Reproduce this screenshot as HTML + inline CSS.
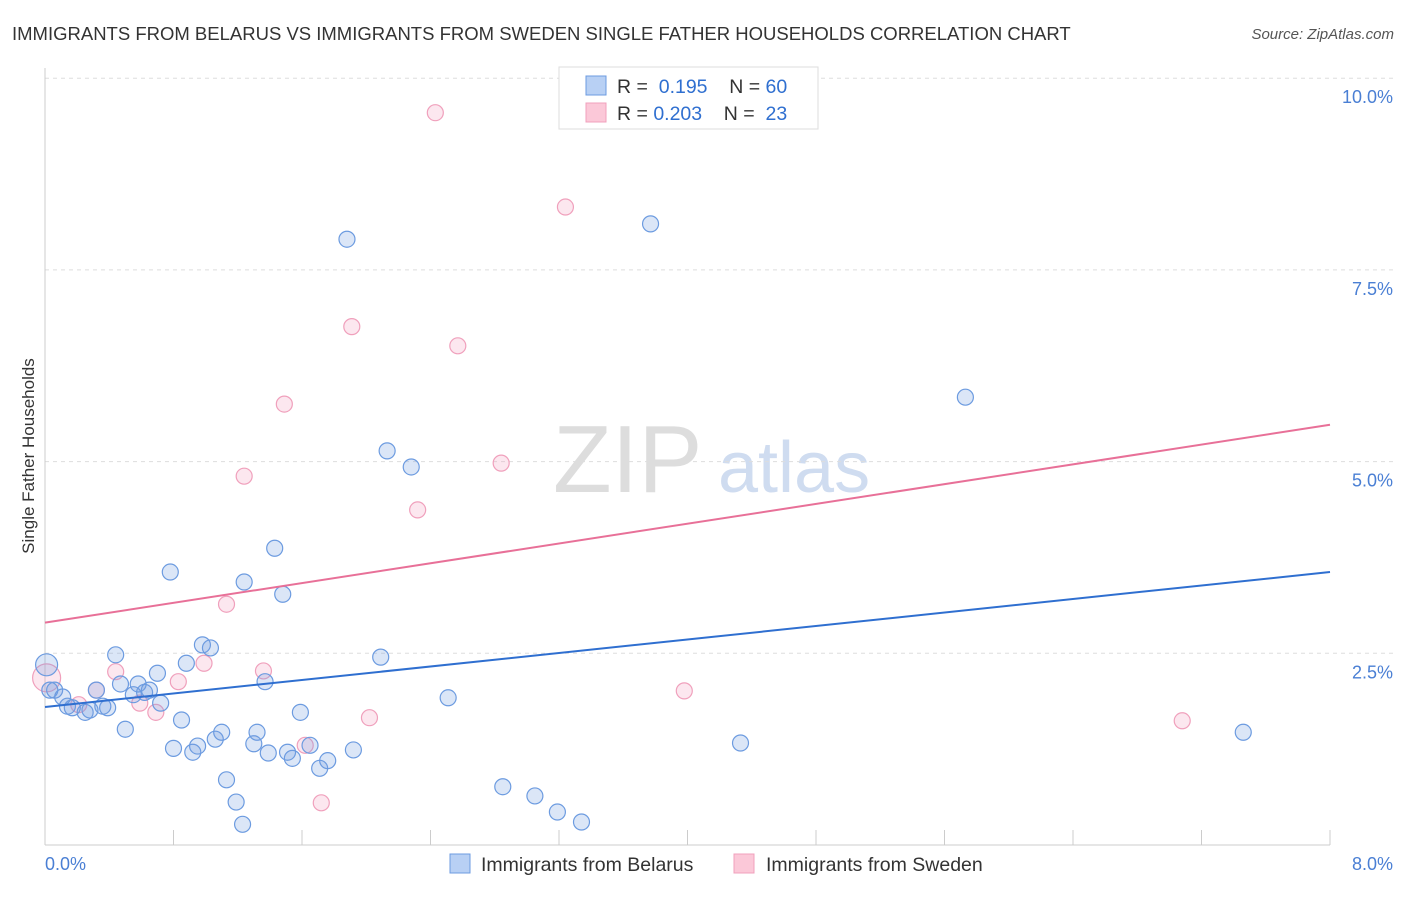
<!DOCTYPE html>
<html><head><meta charset="utf-8"><style>
body{margin:0;background:#fff;font-family:"Liberation Sans",sans-serif;}
svg text{font-family:"Liberation Sans",sans-serif;}
</style></head><body>
<svg width="1406" height="892">
<text x="12" y="40" font-size="18.5" fill="#333">IMMIGRANTS FROM BELARUS VS IMMIGRANTS FROM SWEDEN SINGLE FATHER HOUSEHOLDS CORRELATION CHART</text>
<text x="1394" y="39" font-size="15" fill="#555" font-style="italic" text-anchor="end">Source: ZipAtlas.com</text>
<text x="553" y="492" font-size="96" fill="#ddd">ZIP</text>
<text x="718" y="492" font-size="72" fill="#cfdcf0">atlas</text>
<g id="grid"></g>
<line x1="45" y1="68" x2="45" y2="845" stroke="#ccc"/>
<line x1="45" y1="845" x2="1330" y2="845" stroke="#ccc"/>
<g id="ticks"></g>
<text x="45" y="870" font-size="18" fill="#4a7fd4">0.0%</text>
<text x="1393" y="870" font-size="18" fill="#4a7fd4" text-anchor="end">8.0%</text>
<text x="34" y="456" font-size="17" fill="#333" text-anchor="middle" transform="rotate(-90 34 456)">Single Father Households</text>
<g id="pts"></g>
<g id="trend"></g>
<g>
<rect x="559" y="67" width="259" height="62" fill="#fff" stroke="#ddd"/>
<rect x="586" y="76" width="20" height="19" fill="#b8d0f4" stroke="#6c9be0"/>
<rect x="586" y="103" width="20" height="19" fill="#fbc8d8" stroke="#f0a0bc"/>
<text x="617" y="93" font-size="19.5" fill="#333">R = <tspan fill="#2f6fd0">&#160;0.195</tspan>&#160;&#160;&#160;&#160;N = <tspan fill="#2f6fd0">60</tspan></text>
<text x="617" y="120" font-size="19.5" fill="#333">R = <tspan fill="#2f6fd0">0.203</tspan>&#160;&#160;&#160;&#160;N = <tspan fill="#2f6fd0">&#160;23</tspan></text>
</g>
<g>
<rect x="450" y="854" width="20" height="19" fill="#b8d0f4" stroke="#6c9be0"/>
<text x="481" y="871" font-size="19.5" fill="#333">Immigrants from Belarus</text>
<rect x="734" y="854" width="20" height="19" fill="#fbc8d8" stroke="#f0a0bc"/>
<text x="766" y="871" font-size="19.5" fill="#333">Immigrants from Sweden</text>
</g>
</svg>
<script>
const yTicks=[2.5,5,7.5,10];
const yTickLabels=["2.5%","5.0%","7.5%","10.0%"];
const xTicks=[0,0.8,1.6,2.4,3.2,4,4.8,5.6,6.4,7.2,8];
const belX=[0.01,0.06,0.11,0.14,0.17,0.25,0.28,0.32,0.36,0.39,0.44,0.47,0.50,0.55,0.58,0.62,0.65,0.70,0.72,0.78,0.80,0.85,0.88,0.92,0.95,0.98,1.03,1.06,1.10,1.13,1.19,1.23,1.24,1.30,1.32,1.37,1.39,1.43,1.48,1.51,1.54,1.59,1.65,1.71,1.76,1.88,1.92,2.09,2.13,2.28,2.51,2.85,3.05,3.19,3.34,3.77,4.33,5.73,7.46,0.03];
const belY=[2.35,2.02,1.93,1.81,1.79,1.73,1.76,2.02,1.81,1.79,2.48,2.10,1.51,1.96,2.10,1.99,2.02,2.24,1.85,3.56,1.26,1.63,2.37,1.21,1.29,2.61,2.57,1.38,1.47,0.85,0.56,0.27,3.43,1.32,1.47,2.13,1.20,3.87,3.27,1.21,1.13,1.73,1.30,1.00,1.10,7.90,1.24,2.45,5.14,4.93,1.92,0.76,0.64,0.43,0.30,8.10,1.33,5.84,1.47,2.02];
const sweX=[0.01,0.32,0.44,0.59,0.69,0.83,0.99,1.13,1.24,1.36,1.49,1.62,1.72,1.91,2.02,2.32,2.43,2.57,2.84,3.24,3.98,7.08,0.21];
const sweY=[2.18,2.02,2.26,1.85,1.73,2.13,2.37,3.14,4.81,2.27,5.75,1.30,0.55,6.76,1.66,4.37,9.55,6.51,4.98,8.32,2.01,1.62,1.83];
const belTrend=[1.80,3.56];
const sweTrend=[2.90,5.48];
const NS="http://www.w3.org/2000/svg";
const sx=v=>45+v/8*1285, sy=v=>845-v*76.68;
function mk(t,a,p){const e=document.createElementNS(NS,t);for(const k in a)e.setAttribute(k,a[k]);document.getElementById(p).appendChild(e);return e;}
yTicks.forEach((t,i)=>{
 const l=mk('line',{x1:45,x2:1395,y1:sy(t),y2:sy(t),stroke:'#ddd','stroke-dasharray':'4,4'},'grid');
 
 
 const tx=mk('text',{x:1393,y:sy(t)+25,'font-size':18,fill:'#4a7fd4','text-anchor':'end'},'grid');
 tx.textContent=yTickLabels[i];
 
 
});
xTicks.forEach(t=>{
 const l=mk('line',{x1:sx(t),x2:sx(t),y1:830,y2:845,stroke:'#ccc'},'ticks');
 
 
});
sweX.forEach((x,i)=>{
 const c=mk('circle',{cx:sx(x),cy:sy(sweY[i]),r:i==0?14:8,fill:'rgba(245,160,190,0.25)',stroke:'#f0a0bc','stroke-width':1.2},'pts');
 
 
});
belX.forEach((x,i)=>{
 const c=mk('circle',{cx:sx(x),cy:sy(belY[i]),r:i==0?11:8,fill:'rgba(110,155,225,0.25)',stroke:'#6c9be0','stroke-width':1.2},'pts');
 
 
});
const tb=mk('line',{x1:sx(0),x2:sx(8),y1:sy(belTrend[0]),y2:sy(belTrend[1]),stroke:'#2f6fd0','stroke-width':2},'trend');


const ts=mk('line',{x1:sx(0),x2:sx(8),y1:sy(sweTrend[0]),y2:sy(sweTrend[1]),stroke:'#e87098','stroke-width':2},'trend');


</script>
</body></html>
